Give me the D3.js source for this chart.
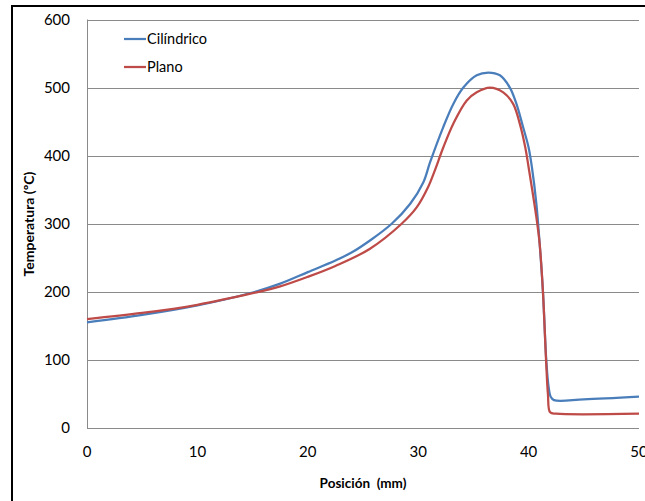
<!DOCTYPE html>
<html>
<head>
<meta charset="utf-8">
<script src="https://cdn.jsdelivr.net/npm/d3@7"></script>
<style>
  body { margin: 0; background: #fff; }
  svg { display: block; font-family: Lato, "Open Sans", sans-serif; }
</style>
</head>
<body>
<div id="chart"></div>
<script>
// position (mm) / temperature (ºC)
const cilX = [0, 5, 10, 15, 17.5, 20, 22.5, 24, 25.6, 27.6, 29.26, 30.47, 31.07, 32.27, 33.18, 34.09, 35.3, 36.35, 37.4, 38.3, 38.9, 39.5, 40.0, 40.3, 40.7, 41.0, 41.3, 41.6, 41.8, 42.0, 42.3, 45, 50];
const cilY = [155, 166, 180, 199, 212, 229, 246, 258, 275, 300, 329, 361, 390, 442, 476, 500, 518, 522, 518, 500, 476, 442, 412, 383, 330, 271, 200, 100, 62, 46, 41, 42, 46];
const plaX = [0, 5, 10, 15, 17.5, 20, 22.5, 25.6, 28.5, 29.86, 30.9, 31.5, 32.27, 33.18, 34.4, 35.3, 36.5, 37.7, 38.6, 39.2, 39.7, 40.0, 40.7, 41.0, 41.3, 41.58, 41.75, 41.95, 42.5, 50];
const plaY = [160, 169, 181, 198, 208, 222, 238, 263, 300, 324, 354, 378, 412, 447, 481, 493, 500, 493, 476, 447, 412, 383, 310, 271, 200, 100, 50, 23, 21, 21];
const seriesNames = ['Cilíndrico', 'Plano'];
const seriesColors = ['#4a7ebb', '#be4b48'];
const xTicks = [0, 10, 20, 30, 40, 50];
const yTicks = [0, 100, 200, 300, 400, 500, 600];

const width = 645, height = 501;
const margin = { left: 87, right: 6, top: 19.5, bottom: 73 };

const svg = d3.select('#chart')
  .append('svg')
  .attr('width', width)
  .attr('height', height);

// outer chart frame (right and bottom edges fall outside the crop)
svg.append('rect')
  .attr('x', 12)
  .attr('y', 6)
  .attr('width', 700)
  .attr('height', 600)
  .attr('fill', 'none')
  .attr('stroke', '#000')
  .attr('stroke-width', 2);

const x = d3.scaleLinear().domain([0, 50]).range([margin.left, width - margin.right]);
const y = d3.scaleLinear().domain([0, 600]).range([height - margin.bottom, margin.top]);

// horizontal gridlines
svg.append('g')
  .selectAll('line')
  .data(yTicks.filter(d => d > 0))
  .join('line')
  .attr('x1', x(0))
  .attr('x2', x(50))
  .attr('y1', d => Math.round(y(d)) + 0.5)
  .attr('y2', d => Math.round(y(d)) + 0.5)
  .attr('stroke', '#8a8a8a')
  .attr('stroke-width', 1);

// axes lines
svg.append('line')
  .attr('x1', x(0) + 0.5).attr('x2', x(0) + 0.5)
  .attr('y1', y(600)).attr('y2', y(0))
  .attr('stroke', '#8a8a8a');
svg.append('line')
  .attr('x1', x(0)).attr('x2', x(50))
  .attr('y1', Math.round(y(0)) + 0.5).attr('y2', Math.round(y(0)) + 0.5)
  .attr('stroke', '#8a8a8a');

// tick labels
svg.append('g')
  .selectAll('text')
  .data(yTicks)
  .join('text')
  .attr('x', 70)
  .attr('y', d => y(d))
  .attr('dy', '0.35em')
  .attr('text-anchor', 'end')
  .attr('font-size', 15)
  .text(d => d);

svg.append('g')
  .selectAll('text')
  .data(xTicks)
  .join('text')
  .attr('x', d => x(d))
  .attr('y', 452)
  .attr('dy', '0.35em')
  .attr('text-anchor', 'middle')
  .attr('font-size', 15)
  .text(d => d);

// axis titles
svg.append('text')
  .attr('x', 363)
  .attr('y', 483)
  .attr('dy', '0.35em')
  .attr('text-anchor', 'middle')
  .attr('font-size', 13.5)
  .attr('font-weight', 'bold')
  .style('white-space', 'pre')
  .text('Posición  (mm)');

svg.append('text')
  .attr('transform', 'translate(29,224) rotate(-90)')
  .attr('dy', '0.35em')
  .attr('text-anchor', 'middle')
  .attr('font-size', 14)
  .attr('font-weight', 'bold')
  .text('Temperatura (ºC)');

// lines
const line = d3.line()
  .x(d => x(d[0]))
  .y(d => y(d[1]))
  .curve(d3.curveCatmullRom.alpha(0.5));

const series = [d3.zip(cilX, cilY), d3.zip(plaX, plaY)];

svg.append('g')
  .selectAll('path')
  .data(series)
  .join('path')
  .attr('d', line)
  .attr('fill', 'none')
  .attr('stroke', (d, i) => seriesColors[i])
  .attr('stroke-width', 2.25)
  .attr('stroke-linejoin', 'round');

// legend
const legend = svg.append('g')
  .selectAll('g')
  .data(seriesNames)
  .join('g')
  .attr('transform', (d, i) => `translate(124,${39 + i * 28})`);
legend.append('line')
  .attr('x1', 0).attr('x2', 22)
  .attr('stroke', (d, i) => seriesColors[i])
  .attr('stroke-width', 2.25);
legend.append('text')
  .attr('x', 23)
  .attr('dy', '0.35em')
  .attr('font-size', 14.5)
  .text(d => d);
</script>
</body>
</html>
